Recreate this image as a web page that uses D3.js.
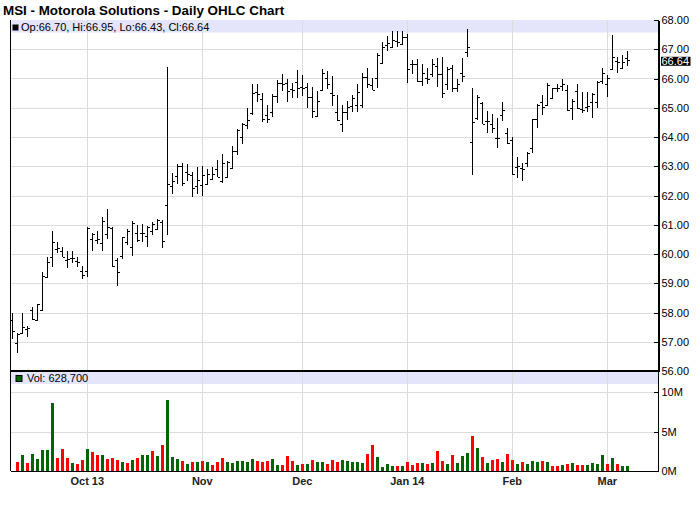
<!DOCTYPE html>
<html><head><meta charset="utf-8">
<script src="https://cdn.jsdelivr.net/npm/d3@7"></script>
<style>
html,body{margin:0;padding:0;background:#fff;}
svg{display:block;font-family:"Liberation Sans",Arial,sans-serif;}
</style></head>
<body><svg id="chart" width="700" height="512"></svg>
<script>
const dates = [
"2013-09-10","2013-09-11","2013-09-12","2013-09-13","2013-09-16","2013-09-17","2013-09-18","2013-09-19","2013-09-20","2013-09-23","2013-09-24","2013-09-25","2013-09-26","2013-09-27","2013-09-30",
"2013-10-01","2013-10-02","2013-10-03","2013-10-04","2013-10-07","2013-10-08","2013-10-09","2013-10-10","2013-10-11","2013-10-14","2013-10-15","2013-10-16","2013-10-17","2013-10-18","2013-10-21","2013-10-22","2013-10-23","2013-10-24","2013-10-25","2013-10-28","2013-10-29","2013-10-30","2013-10-31",
"2013-11-01","2013-11-04","2013-11-05","2013-11-06","2013-11-07","2013-11-08","2013-11-11","2013-11-12","2013-11-13","2013-11-14","2013-11-15","2013-11-18","2013-11-19","2013-11-20","2013-11-21","2013-11-22","2013-11-25","2013-11-26","2013-11-27","2013-11-29",
"2013-12-02","2013-12-03","2013-12-04","2013-12-05","2013-12-06","2013-12-09","2013-12-10","2013-12-11","2013-12-12","2013-12-13","2013-12-16","2013-12-17","2013-12-18","2013-12-19","2013-12-20","2013-12-23","2013-12-24","2013-12-26","2013-12-27","2013-12-30","2013-12-31",
"2014-01-02","2014-01-03","2014-01-06","2014-01-07","2014-01-08","2014-01-09","2014-01-10","2014-01-13","2014-01-14","2014-01-15","2014-01-16","2014-01-17","2014-01-21","2014-01-22","2014-01-23","2014-01-24","2014-01-27","2014-01-28","2014-01-29","2014-01-30","2014-01-31",
"2014-02-03","2014-02-04","2014-02-05","2014-02-06","2014-02-07","2014-02-10","2014-02-11","2014-02-12","2014-02-13","2014-02-14","2014-02-18","2014-02-19","2014-02-20","2014-02-21","2014-02-24","2014-02-25","2014-02-26","2014-02-27","2014-02-28",
"2014-03-03","2014-03-04","2014-03-05","2014-03-06","2014-03-07"];

const open = [57.74,56.97,57.29,57.45,58.07,57.75,58.10,59.20,59.91,60.17,60.11,59.81,59.86,59.75,59.43,
59.43,60.51,60.48,60.37,60.69,60.88,59.79,59.94,60.40,60.25,60.71,60.72,60.63,60.80,60.86,61.10,61.69,62.32,62.66,63.00,62.79,62.70,62.32,
62.35,62.41,62.58,62.89,62.49,62.62,62.95,63.52,63.99,64.41,64.81,65.53,65.29,64.75,64.87,65.40,65.84,65.86,65.63,65.89,
65.72,65.70,65.38,64.72,65.61,66.00,65.50,64.85,64.43,64.85,65.07,65.10,65.10,66.06,65.78,66.03,66.52,67.13,67.09,67.29,67.17,
67.43,66.49,66.49,65.92,66.03,66.14,66.44,66.14,65.80,66.35,65.67,66.18,66.90,63.84,64.66,65.15,64.53,64.46,63.98,64.75,64.13,
63.90,62.99,62.93,63.12,63.61,64.61,65.19,65.10,65.35,65.67,65.76,65.61,65.00,65.57,64.96,65.04,65.19,65.19,65.92,
65.80,66.32,66.60,66.37,66.70];
const high = [58.00,57.29,58.00,57.53,58.18,58.30,59.39,59.91,60.77,60.40,60.25,60.11,60.11,59.89,59.60,
60.91,60.71,60.80,61.26,61.54,60.91,59.86,60.59,60.86,61.14,61.00,61.03,60.97,61.09,61.20,61.17,66.38,62.78,63.06,63.10,63.07,62.81,62.98,
63.00,62.89,62.98,63.21,63.42,63.18,63.69,64.26,64.47,64.98,65.81,65.81,65.52,65.09,65.47,65.95,66.16,65.97,65.86,66.29,
66.12,65.84,65.72,65.58,66.32,66.26,66.09,65.44,65.10,65.23,65.44,65.80,66.18,66.35,66.03,66.86,67.26,67.47,67.63,67.63,67.63,
67.51,66.64,66.67,66.49,66.35,66.67,66.71,66.73,66.41,66.46,65.99,66.69,67.70,65.69,65.42,65.19,64.89,64.78,64.64,65.21,64.30,
63.99,63.32,63.12,63.50,64.62,65.13,65.42,65.84,65.69,65.80,65.99,65.78,65.30,65.80,65.55,65.55,65.49,65.92,66.37,
66.12,67.49,66.75,66.81,66.95];
const low = [57.11,56.63,57.26,57.16,57.76,57.75,58.08,59.18,59.54,60.02,59.89,59.51,59.68,59.54,59.14,
59.22,60.11,60.34,60.11,60.51,59.54,58.89,59.83,60.32,59.92,60.40,60.40,60.23,60.66,60.82,60.21,60.66,62.05,62.39,62.33,62.50,61.95,62.05,
62.00,62.41,62.55,62.62,62.43,62.62,62.92,63.40,63.76,64.26,64.75,65.18,64.52,64.49,64.67,65.15,65.58,65.21,65.32,65.32,
65.40,64.98,64.64,64.69,65.61,65.63,65.07,64.53,64.18,64.58,64.85,64.85,64.98,65.67,65.61,65.67,66.49,66.94,67.03,67.09,67.13,
65.84,66.15,65.89,65.75,65.80,66.06,65.72,65.35,65.61,65.53,65.53,65.89,66.75,62.70,64.58,64.43,64.13,64.13,63.61,64.53,63.75,
62.70,62.61,62.51,62.99,63.44,64.32,64.75,65.07,65.30,65.53,65.57,64.89,64.58,64.96,64.81,64.87,64.66,65.00,65.80,
65.38,66.29,66.18,66.33,66.43];
const close = [57.36,57.25,57.52,57.47,57.79,58.28,59.25,59.71,60.40,60.20,59.91,59.83,59.86,59.73,59.29,
60.89,60.69,60.51,61.14,60.91,59.60,59.39,60.59,60.77,61.06,60.48,60.72,60.94,61.03,61.17,60.45,62.41,62.50,63.00,62.43,62.73,62.26,62.53,
62.70,62.72,62.72,62.64,63.10,63.13,63.52,64.24,64.44,64.58,65.52,65.47,64.60,64.60,65.40,65.86,65.81,65.58,65.61,65.66,
65.69,65.38,64.90,65.23,66.20,65.81,65.42,64.58,64.85,65.04,65.35,65.53,66.06,65.80,65.61,66.81,67.09,67.21,67.32,67.26,67.43,
66.33,66.49,65.92,66.18,65.99,66.49,66.14,65.49,66.33,65.67,65.80,66.10,67.09,64.50,65.38,64.43,64.55,64.32,63.98,64.92,63.78,
62.72,63.01,62.91,63.44,64.61,65.10,65.04,65.78,65.67,65.69,65.80,64.91,65.23,65.00,64.92,65.07,65.46,65.89,66.18,
66.01,66.75,66.58,66.55,66.64];

// volume in millions of shares (first day not shown)
const volume = [null,1.19,2.03,1.02,2.16,1.53,2.67,2.67,8.64,1.65,2.80,1.65,1.02,0.89,1.40,
2.80,2.42,2.03,2.03,1.53,1.65,1.40,1.14,1.02,1.40,1.65,2.03,2.03,2.54,1.91,3.31,9.03,1.78,1.53,1.27,0.89,1.14,1.14,
1.27,1.14,0.76,1.14,1.65,1.14,1.02,1.27,1.27,1.14,1.53,1.27,1.14,1.27,1.53,0.76,0.76,1.91,1.27,0.76,
0.89,0.89,1.40,1.14,1.14,0.89,1.40,1.14,1.40,1.27,1.14,1.14,1.02,2.16,3.31,1.78,0.51,0.89,0.64,0.64,0.64,
1.14,0.76,1.02,1.02,0.89,1.02,2.54,1.27,0.89,2.03,1.02,1.91,2.29,4.45,2.92,1.78,1.02,1.40,1.53,1.14,2.16,
1.40,0.89,1.14,0.89,1.27,1.14,1.27,1.14,0.64,0.64,0.76,0.89,1.02,0.76,0.76,0.76,1.02,0.89,2.03,
0.89,1.65,0.89,0.64,0.63];
// volume bar direction: u = up (green), d = down (red)
const volDir = ["u","d","u","d","u","u","u","u","u","d","d","d","u","d","d",
"u","d","d","u","d","d","d","u","d","u","d","u","u","d","u","d","u","u","u","d","u","d","u",
"d","u","d","d","d","u","u","u","u","u","u","d","d","d","u","u","d","d","d","u",
"d","u","d","u","u","d","d","d","u","u","u","u","u","d","d","u","u","u","u","d","u",
"d","d","d","u","d","u","d","d","u","d","u","u","u","d","u","d","u","d","d","u","d",
"d","u","d","u","u","u","d","u","d","d","u","d","u","d","d","u","u","u","u",
"d","u","d","u","u"];

const priceTicks = [56,57,58,59,60,61,62,63,64,65,66,67,68];
const volTicks = [0,5,10];
const monthDates = ["2013-10-01","2013-11-01","2013-12-02","2014-01-02","2014-02-03","2014-03-03"];
const monthLabels = ["Oct 13","Nov","Dec","Jan 14","Feb","Mar"];
const title = "MSI - Motorola Solutions - Daily OHLC Chart";
const lastVolumeText = "628,700";

// ---------- layout ----------
const L = 10.5, R = 658.5;
const pTop = 20, pBot = 371;
const vTop = 372, vBot = 471;

const svg = d3.select("#chart");
const x = d3.scalePoint().domain(dates).range([12.3, 627.3]);
const y = d3.scaleLinear().domain([56, 68]).range([pBot, pTop]);
const yv = d3.scaleLinear().domain([0, 10]).range([vBot, 392.3]);
const px = d => Math.floor(x(d)) + 0.5;
const grid = "#dcdcdc";
const band = "#e4e4fa";

// title
svg.append("text").attr("x", 3).attr("y", 14.5)
  .attr("font-size", 13.4).attr("font-weight", "bold").attr("fill", "#000").text(title);

// ---------- price panel ----------
const gp = svg.append("g");
gp.append("rect").attr("x", L).attr("y", pTop).attr("width", R - L).attr("height", 12.5).attr("fill", band);
gp.selectAll("line.hg").data(priceTicks.filter(t => t > 56 && t < 68)).join("line")
  .attr("x1", L).attr("x2", R)
  .attr("y1", d => Math.round(y(d)) + 0.5).attr("y2", d => Math.round(y(d)) + 0.5)
  .attr("stroke", grid);
gp.selectAll("line.vg").data(monthDates).join("line")
  .attr("x1", px).attr("x2", px).attr("y1", pTop).attr("y2", pBot)
  .attr("stroke", grid);

// OHLC bars
const bars = gp.append("g").attr("stroke", "#000").attr("stroke-width", 1).attr("shape-rendering", "crispEdges");
dates.forEach((d, i) => {
  const cx = px(d);
  bars.append("line").attr("x1", cx).attr("x2", cx).attr("y1", y(high[i])).attr("y2", y(low[i]));
  const yo = Math.round(y(open[i])) + 0.5, yc = Math.round(y(close[i])) + 0.5;
  bars.append("line").attr("x1", cx - 2.5).attr("x2", cx).attr("y1", yo).attr("y2", yo);
  bars.append("line").attr("x1", cx).attr("x2", cx + 2.5).attr("y1", yc).attr("y2", yc);
});

// legend
const last = dates.length - 1;
gp.append("rect").attr("x", 12.5).attr("y", 24.5).attr("width", 6).attr("height", 6).attr("fill", "#000");
gp.append("text").attr("x", 21).attr("y", 31).attr("font-size", 11).attr("fill", "#000")
  .text(`Op:${open[last].toFixed(2)}, Hi:${high[last].toFixed(2)}, Lo:${low[last].toFixed(2)}, Cl:${close[last].toFixed(2)}`);

// right price axis
const ax = svg.append("g").attr("transform", `translate(${R},0)`)
  .call(d3.axisRight(y).tickValues(priceTicks).tickSizeInner(-5).tickSizeOuter(0).tickPadding(3).tickFormat(d3.format(".2f")));
ax.selectAll("text").attr("font-size", 11).attr("font-family", '"Liberation Sans",Arial,sans-serif').attr("fill", "#000");
ax.selectAll("line,path").attr("stroke", "#000").attr("shape-rendering", "crispEdges");

// last close box
const cy = y(close[last]) + 1.5;
svg.append("rect").attr("x", R + 2.5).attr("y", cy - 4.5).attr("width", 29.5).attr("height", 9).attr("fill", "#000");
svg.append("text").attr("x", R + 3).attr("y", cy).attr("dy", "0.35em").attr("font-size", 11).attr("fill", "#fff")
  .text(close[last].toFixed(2));

// ---------- volume panel ----------
const gv = svg.append("g");
gv.append("rect").attr("x", L).attr("y", vTop).attr("width", R - L).attr("height", 12).attr("fill", band);
gv.selectAll("line.hg").data(volTicks.filter(t => t > 0)).join("line")
  .attr("x1", L).attr("x2", R)
  .attr("y1", d => Math.round(yv(d)) + 0.5).attr("y2", d => Math.round(yv(d)) + 0.5)
  .attr("stroke", grid);
gv.selectAll("line.vg").data(monthDates).join("line")
  .attr("x1", px).attr("x2", px).attr("y1", vTop).attr("y2", vBot)
  .attr("stroke", grid);

gv.append("g").attr("shape-rendering", "crispEdges").selectAll("rect")
  .data(dates.map((d, i) => ({ d, v: volume[i], dir: volDir[i] })).filter(o => o.v != null))
  .join("rect")
  .attr("x", o => Math.round(x(o.d)) - 1).attr("width", 3)
  .attr("y", o => yv(o.v)).attr("height", o => vBot - yv(o.v))
  .attr("fill", o => o.dir === "u" ? "#006400" : "#ff0000");

gv.append("rect").attr("x", 16).attr("y", 375.5).attr("width", 6).attr("height", 6)
  .attr("fill", "#006400").attr("stroke", "#000").attr("stroke-width", 1);
gv.append("text").attr("x", 27).attr("y", 382).attr("font-size", 11).attr("fill", "#000")
  .text("Vol: " + lastVolumeText);

const axv = svg.append("g").attr("transform", `translate(${R},0)`)
  .call(d3.axisRight(yv).tickValues(volTicks).tickSizeInner(-5).tickSizeOuter(0).tickPadding(3).tickFormat(d => d + "M"));
axv.select("path").remove();
axv.selectAll("text").attr("font-size", 11).attr("font-family", '"Liberation Sans",Arial,sans-serif').attr("fill", "#000");
axv.selectAll("line").attr("stroke", "#000").attr("shape-rendering", "crispEdges");

// frame lines
const fr = svg.append("g").attr("stroke", "#000").attr("shape-rendering", "crispEdges");
fr.append("line").attr("x1", L).attr("x2", L).attr("y1", pTop).attr("y2", vBot);
fr.append("line").attr("x1", R).attr("x2", R).attr("y1", pTop).attr("y2", vBot);
fr.append("line").attr("x1", L).attr("x2", R).attr("y1", vBot + 0.5).attr("y2", vBot + 0.5);
fr.append("line").attr("x1", L).attr("x2", R + 1).attr("y1", 371).attr("y2", 371).attr("stroke-width", 2);

// month labels
svg.selectAll("text.month").data(monthDates).join("text")
  .attr("x", d => x(d)).attr("y", 485).attr("text-anchor", "middle")
  .attr("font-size", 11).attr("font-weight", "bold").attr("fill", "#222")
  .text((d, i) => monthLabels[i]);
</script></body></html>
